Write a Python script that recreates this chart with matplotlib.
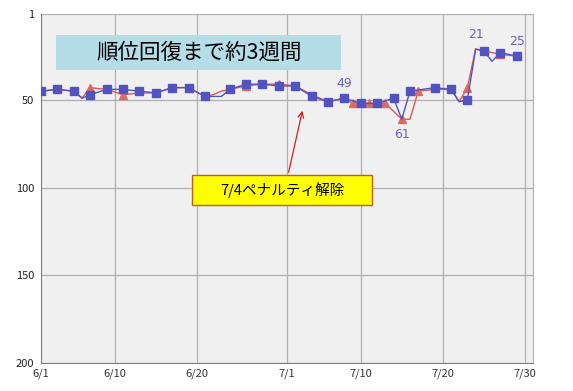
import matplotlib
matplotlib.use("Agg")
import matplotlib.pyplot as plt
from matplotlib.patches import Rectangle

plt.rcParams['font.family'] = ['Noto Sans CJK JP', 'DejaVu Sans']

# day offsets from 6/1
xtick_days = [0, 9, 19, 30, 39, 49, 59]
xtick_labels = ['6/1', '6/10', '6/20', '7/1', '7/10', '7/20', '7/30']
ytick_vals = [1, 50, 100, 150, 200]

blue_days = [0, 2, 4, 5, 6, 8, 10, 12, 14, 16, 18, 20, 22, 23, 25, 27, 29, 31, 33, 35,
             37, 39, 41, 43, 44, 45, 48, 50, 51, 52, 53, 54, 55, 56, 58]
blue_rank = [45, 44, 45, 49, 47, 44, 44, 45, 46, 43, 43, 48, 48, 44, 41, 41, 42, 42, 48, 51,
             49, 52, 52, 49, 61, 45, 43, 44, 51, 50, 21, 22, 28, 23, 25]
blue_marked = [0, 2, 4, 6, 8, 10, 12, 14, 16, 18, 20, 23, 25, 27, 29, 31, 33, 35,
               37, 39, 41, 43, 45, 48, 50, 52, 54, 56, 58]

red_days = [0, 2, 4, 5, 6, 8, 10, 12, 14, 16, 18, 20, 21, 22, 23, 25, 27, 29, 31, 33, 35,
            37, 38, 40, 42, 44, 45, 46, 48, 50, 51, 52, 53, 54, 56, 58]
red_rank = [45, 44, 45, 49, 43, 44, 47, 46, 46, 43, 43, 48, 47, 45, 44, 42, 41, 41, 42, 47, 51,
            49, 52, 52, 52, 61, 61, 45, 44, 44, 51, 43, 21, 22, 24, 25]
red_marked = [6, 10, 25, 29, 38, 40, 42, 44, 46, 52, 56]

# labelled points: (day, rank, text, direction)
point_labels = [(37, 49, '49', 1), (44, 61, '61', -1), (53, 21, '21', 1), (58, 25, '25', 1)]

title_text = '順位回復まで約3週間'
note_text = '7/4ペナルティ解除'

fig = plt.figure(figsize=(5.73, 3.91), dpi=100)
ax = fig.add_axes([41 / 573, 1 - 363 / 391, 492 / 573, 349 / 391])
ax.set_facecolor('#f0f0f0')

blue = '#5353c0'
red = '#d95a55'

ax.plot(red_days, red_rank, color=red, lw=1.0, zorder=3)
ax.plot([d for d in red_days if d in red_marked],
        [r for d, r in zip(red_days, red_rank) if d in red_marked],
        ls='none', marker='^', ms=5.8, color='#dd6a62', zorder=4)
ax.plot(blue_days, blue_rank, color=blue, lw=1.0, zorder=5)
ax.plot([d for d in blue_days if d in blue_marked],
        [r for d, r in zip(blue_days, blue_rank) if d in blue_marked],
        ls='none', marker='s', ms=5.2, color=blue, zorder=6)

for d, r, t, s in point_labels:
    ax.annotate(t, (d, r), xytext=(0, 6 * s), textcoords='offset points',
                ha='center', va='bottom' if s > 0 else 'top',
                fontsize=9, color='#6464b8', family='DejaVu Sans', zorder=7)

ax.set_xlim(0, 60)
ax.set_ylim(200, 1)
ax.set_xticks(xtick_days)
ax.set_xticklabels(xtick_labels)
ax.set_yticks(ytick_vals)
ax.tick_params(axis='x', length=0, labelsize=8, colors='#333333', pad=4)
ax.tick_params(axis='y', length=0, labelsize=8, colors='#222222', pad=5)
ax.grid(True, color='#b0b0b0', lw=0.9)
ax.set_axisbelow(True)
for side in ['left', 'bottom']:
    ax.spines[side].set_color('#808080')
ax.spines['right'].set_color('#b0b0b0')
ax.spines['top'].set_visible(False)

# title box
fig.patches.append(Rectangle((56 / 573, 1 - 70 / 391), 285 / 573, 35 / 391,
                             transform=fig.transFigure, facecolor='#b4dde8',
                             edgecolor='none', zorder=8))
fig.text(199 / 573, 1 - 53 / 391, title_text, ha='center', va='center',
         fontsize=15.5, color='black', zorder=9)

# penalty note box with arrow
fig.patches.append(Rectangle((192 / 573, 1 - 205 / 391), 180 / 573, 30 / 391,
                             transform=fig.transFigure, facecolor='#ffff00',
                             edgecolor='#c0601a', lw=1.0, zorder=8))
fig.text(282 / 573, 1 - 190 / 391, note_text, ha='center', va='center',
         fontsize=10.5, color='black', zorder=9)
ax.annotate('', xy=(303 / 573, 1 - 108 / 391), xycoords='figure fraction',
            xytext=(288 / 573, 1 - 175 / 391), textcoords='figure fraction',
            arrowprops=dict(arrowstyle='->', color='#d02020', lw=0.9))

fig.savefig('out.png', dpi=100)
